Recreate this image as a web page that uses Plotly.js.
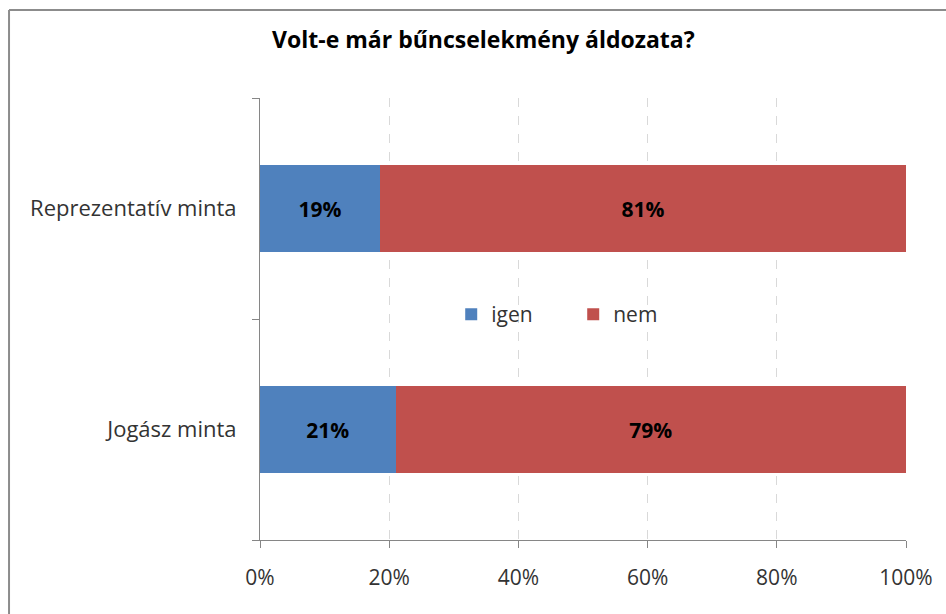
<!DOCTYPE html>
<html>
<head>
<meta charset="utf-8">
<script src="https://cdn.plot.ly/plotly-3.0.1.min.js"></script>
<style>html,body{margin:0;padding:0;background:#fff;}#chart{width:946px;height:614px;}</style>
</head>
<body>
<div id="chart"></div>
<script>
const categories = ['Jogász minta', 'Reprezentatív minta'];
const igenValues = [21, 18.6];
const nemValues = [79, 81.4];
const seriesNames = ['igen', 'nem'];
const xTickVals = [0, 20, 40, 60, 80, 100];
const xTickText = ['0%', '20%', '40%', '60%', '80%', '100%'];
const titleText = 'Volt-e már bűncselekmény áldozata?';

const FONT = '"Open Sans", Lato, sans-serif';

const traces = [
  {
    type: 'bar', orientation: 'h', name: seriesNames[0],
    y: categories, x: igenValues,
    marker: {color: '#4F81BD'},
    texttemplate: '%{x:.0f}%', textposition: 'inside', insidetextanchor: 'middle',
    textfont: {family: FONT, size: 21, color: '#000', weight: 'bold'},
    hoverinfo: 'skip'
  },
  {
    type: 'bar', orientation: 'h', name: seriesNames[1],
    y: categories, x: nemValues,
    marker: {color: '#C0504D'},
    texttemplate: '%{x:.0f}%', textposition: 'inside', insidetextanchor: 'middle',
    textfont: {family: FONT, size: 21, color: '#000', weight: 'bold'},
    hoverinfo: 'skip'
  }
];

const layout = {
  width: 946, height: 614,
  margin: {l: 260, r: 40, t: 98, b: 74, pad: 0},
  paper_bgcolor: '#ffffff', plot_bgcolor: '#ffffff',
  font: {family: FONT, color: '#333'},
  barmode: 'stack',
  bargap: 0.606,
  title: {
    text: titleText, x: 0.511, xanchor: 'center', y: 0.935, yanchor: 'middle',
    font: {family: FONT, size: 23, color: '#000', weight: 'bold'}
  },
  showlegend: true,
  legend: {
    orientation: 'h', x: 0.296, xanchor: 'left', y: 0.51, yanchor: 'middle',
    bgcolor: 'rgba(0,0,0,0)', font: {family: FONT, size: 21, color: '#333'},
    entrywidth: 77, traceorder: 'normal'
  },
  xaxis: {
    range: [0, 100], tickvals: xTickVals, ticktext: xTickText,
    showgrid: true, gridcolor: '#d9d9d9', griddash: 'dash', gridwidth: 1,
    zeroline: false, showline: true, linecolor: '#868686', linewidth: 1,
    ticks: 'outside', ticklen: 7, tickcolor: '#868686',
    tickfont: {family: FONT, size: 21, color: '#333'},
    ticklabelstandoff: 12, fixedrange: true
  },
  yaxis: {
    type: 'category', categoryorder: 'array', categoryarray: categories,
    range: [-0.5, 1.5],
    showgrid: false, zeroline: false, showline: true, linecolor: '#868686', linewidth: 1,
    ticks: 'outside', ticklen: 7, tickcolor: '#868686', tickson: 'boundaries',
    tickfont: {family: FONT, size: 22, color: '#333'},
    ticklabelstandoff: 18, fixedrange: true
  },
  shapes: [
    {type: 'line', xref: 'paper', yref: 'paper', x0: -0.3885, x1: 1.2, y0: 1.199, y1: 1.199,
     line: {color: '#8c8c8c', width: 2}},
    {type: 'line', xref: 'paper', yref: 'paper', x0: -0.3885, x1: -0.3885, y0: 1.199, y1: -0.25,
     line: {color: '#8c8c8c', width: 2}}
  ]
};

Plotly.newPlot('chart', traces, layout, {displayModeBar: false, staticPlot: true});
</script>
</body>
</html>
